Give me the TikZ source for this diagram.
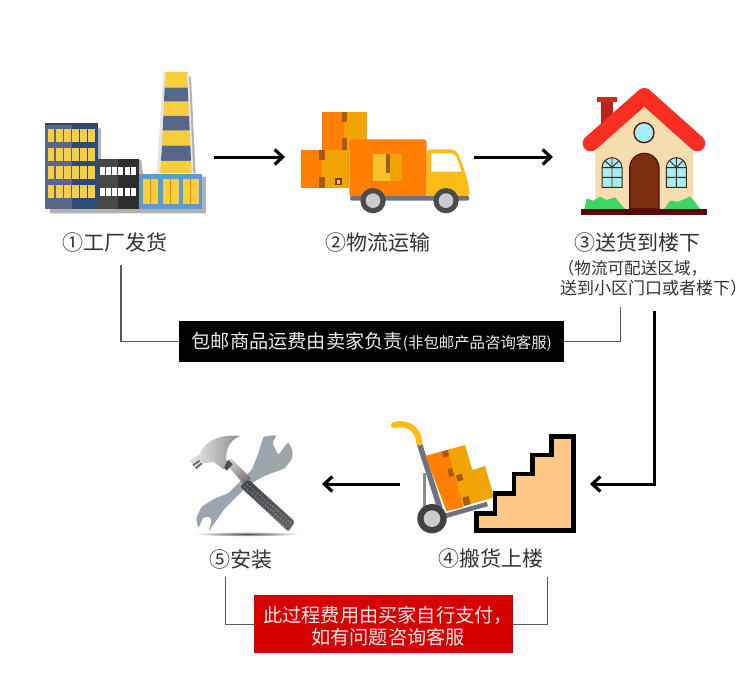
\documentclass[tikz,border=0pt]{standalone}
\usepackage{fontspec}
\newfontfamily\cjk{Noto Sans CJK SC}
\usetikzlibrary{arrows.meta}
\definecolor{txt}{HTML}{333333}
\definecolor{fnavy}{HTML}{56678A}
\definecolor{fnavyd}{HTML}{2E4A76}
\definecolor{fyel}{HTML}{F7CE3C}
\definecolor{fblue}{HTML}{5C9AD0}
\definecolor{orng}{HTML}{FF7F05}
\definecolor{ambr}{HTML}{F3A405}
\definecolor{tape}{HTML}{A85B10}
\definecolor{cabyel}{HTML}{FDBB17}
\definecolor{chas}{HTML}{6E7281}
\definecolor{roof}{HTML}{F92E22}
\definecolor{wall}{HTML}{F6DDAF}
\definecolor{glass}{HTML}{A6EEF5}
\definecolor{brwn}{HTML}{7B2E0E}
\definecolor{dbrwn}{HTML}{55090B}
\definecolor{grass}{HTML}{40D562}
\definecolor{steelb}{HTML}{8FA5C0}
\definecolor{steelm}{HTML}{EDEDE6}
\definecolor{steelr}{HTML}{A8A698}
\definecolor{gripc}{HTML}{43474B}
\tikzset{
  lbl/.style={font=\cjk\fontsize{21}{22}\selectfont, text=txt, inner sep=0pt},
  sublbl/.style={font=\cjk\fontsize{16.6}{18}\selectfont, text=txt, inner sep=0pt},
  flow/.style={draw=black, line width=3pt, -{Straight Barb[length=8pt,width=15pt,line width=3.2pt]}},
  bracket/.style={draw=black!65, line width=1.2pt},
  wndw/.style={fill=fyel, draw=none},
  whitewin/.style={fill=white, draw=none},
  ygridw/.style={draw=brwn!70!black, line width=1pt, fill=glass},
}
\begin{document}
\begin{tikzpicture}[x=1pt,y=-1pt]
\useasboundingbox (0,0) rectangle (750,693);
\fill[white] (0,0) rectangle (750,693);

% ---------- factory (zoom coordinates)
\begin{scope}[shift={(30,60)},scale=1/3]
  \fill[black!30] (60,205) -- (213,205) -- (213,300) -- (335,300) -- (335,310) -- (340,350) -- (528,350) -- (528,460) -- (60,460) -- cycle;
  \fill[black!30] (470,50) -- (483,50) -- (497,340) -- (480,340) -- cycle;
  % chimney
  \fill[black!10] (400,36) -- (477,36) -- (490,340) -- (380,340) -- cycle;
  \fill[fyel] (407,36) -- (470,36) -- (473,83) -- (404,83) -- cycle;
  \fill[fnavy] (404,83) -- (473,83) -- (475,125) -- (402,125) -- cycle;
  \fill[fyel] (402,125) -- (475,125) -- (477,168) -- (400,168) -- cycle;
  \fill[fnavy] (400,168) -- (477,168) -- (479,212) -- (398,212) -- cycle;
  \fill[fyel] (398,212) -- (479,212) -- (481,257) -- (396,257) -- cycle;
  \fill[fnavy] (396,257) -- (481,257) -- (483,303) -- (393,303) -- cycle;
  \fill[fyel] (393,303) -- (483,303) -- (485,340) -- (391,340) -- cycle;
  % tall building
  \fill[fnavy] (45,190) rectangle (126,448);
  \fill[fnavyd] (126,190) rectangle (203,448);
  \fill[black!35!fnavy] (45,190) rectangle (203,196);
  \foreach \yy in {208,263,319,375}{
    \foreach \xx in {53,78,102,127,151,175}{
      \fill[wndw] (\xx,\yy) rectangle ++(20,39);
    }
  }
  % dark building
  \fill[black!72] (203,296) rectangle (264,448);
  \fill[black!82] (264,296) rectangle (328,448);
  \foreach \yy in {320,383}{
    \foreach \xx in {210,228,247,265,284,302}{
      \fill[whitewin] (\xx,\yy) rectangle ++(15,24);
    }
  }
  % blue building
  \fill[fblue] (328,342) rectangle (515,448);
  \foreach \xx in {338,400,460}{
    \fill[fyel] (\xx,358) rectangle ++(46,75);
    \fill[orng] (\xx+21,358) rectangle ++(3,75);
  }
\end{scope}

% ---------- truck
\begin{scope}[shift={(290,90)},scale=1/3]
  \fill[ambr] (97,65) rectangle (230,180);
  \fill[orng] (97,65) rectangle (163,180);
  \fill[tape] (155,65) rectangle (171,97);
  \fill[tape] (155,145) rectangle (171,180);
  \fill[ambr] (34,180) rectangle (178,295);
  \fill[orng] (34,180) rectangle (97,295);
  \fill[tape] (88,180) rectangle (105,210);
  \fill[tape] (88,262) rectangle (105,293);
  \fill[tape!70!black] (136,265) rectangle (156,286);
  \fill[ambr!70!white] (141,270) rectangle (151,281);
  % cargo body
  \fill[orng, rounded corners=3pt] (178,148) rectangle (410,322);
  \fill[fyel!70!ambr] (249,193) rectangle (300,273);
  \fill[ambr] (300,193) rectangle (337,273);
  \fill[tape] (287,193) rectangle (300,250);
  % cab
  \fill[cabyel, rounded corners=4pt] (410,178) -- (490,178) -- (505,190) -- (525,245) -- (538,295) -- (538,322) -- (410,322) -- cycle;
  \fill[white] (424,190) -- (485,190) -- (498,198) -- (515,245) -- (424,245) -- cycle;
  % chassis
  \fill[chas, rounded corners=2pt] (180,318) rectangle (538,332);
  \foreach \xx in {249,468}{
    \fill[black!70] (\xx,332) circle (38);
    \fill[black!20] (\xx,332) circle (22);
  }
\end{scope}

% ---------- house
\begin{scope}[shift={(550,70)},scale=1/3]
  \fill[roof!75!black] (152,95) rectangle (190,170);
  \fill[roof!85!black] (140,82) rectangle (200,96);
  \fill[wall] (136,417) -- (136,235) -- (283,100) -- (430,235) -- (430,417) -- cycle;
  \draw[roof, line width=16pt, line cap=round, line join=round] (122,220) -- (283,78) -- (442,220);
  \fill[grass] (103,417) -- (110,385) -- (130,392) -- (150,380) -- (170,390) -- (195,382) -- (225,417) -- cycle;
  \fill[grass] (343,417) -- (360,392) -- (385,395) -- (420,380) -- (432,392) -- (450,417) -- cycle;
  \fill[dbrwn] (92,417) rectangle (470,435);
  \draw[dbrwn, line width=1.3pt, fill=glass] (282,188) circle (30);
  \draw[dbrwn, line width=1.2pt, fill=brwn] (239,417) -- (239,295) arc[start angle=180,end angle=360,x radius=44,y radius=45] -- (327,417) -- cycle;
  \foreach \xx in {156,349}{
    \draw[ygridw] (\xx,352) -- (\xx,293) arc[start angle=180,end angle=360,x radius=30,y radius=30] -- (\xx+60,352) -- cycle;
    \draw[brwn!70!black, line width=.9pt] (\xx,293) -- (\xx+60,293) (\xx,322) -- (\xx+60,322) (\xx+30,263) -- (\xx+30,352)
      (\xx+30,293) -- (\xx+10,272) (\xx+30,293) -- (\xx+50,272);
  }
\end{scope}

% ---------- tools
\begin{scope}[shift={(185,430)},scale=1/3]
  \shade[inner color=black!70, outer color=white] (186,312) ellipse (162 and 7);
  % wrench
  \shade[left color=steelb, middle color=steelm, right color=steelr, shading angle=45, rounded corners=1.5pt]
    (235,20) -- (275,15) -- (262,40) -- (280,75) -- (310,35) -- (322,60) -- (322,85) -- (300,115) -- (245,135) -- (215,150) -- (180,175)
    -- (140,215) -- (120,235) -- (95,270) -- (70,305) -- (80,275) -- (75,260) -- (55,262) -- (40,295) -- (33,265) -- (50,230) -- (90,205) -- (130,190) -- (200,120) -- (220,70) -- cycle;
  % neck
  \shade[left color=black!20, right color=black!55, shading angle=45] (122,100) -- (138,85) -- (198,145) -- (178,165) -- cycle;
  \fill[black!70] (112,108) -- (130,90) -- (143,103) -- (125,122) -- cycle;
  % grip
  \shade[top color=gripc, bottom color=black!60, rounded corners=2pt] (190,148) -- (330,275) -- (310,305) -- (165,170) -- cycle;
  \foreach \ss in {0,1,2}{
    \draw[black!35, line width=.8pt, dash pattern=on 1pt off 2.4pt] (186+\ss*-7,162+\ss*8) -- (317+\ss*-7,278+\ss*8);
  }
  % head
  \shade[left color=black!15, middle color=white, right color=black!45]
    (45,72) .. controls (55,45) and (90,10) .. (165,18) .. controls (135,30) and (118,60) .. (125,95) -- (115,118) -- (85,95) -- (55,100) -- cycle;
  \fill[black!15] (15,92) -- (45,72) -- (55,100) -- (35,122) -- cycle;
  \draw[black!60, line width=1.6pt] (24,106) -- (44,92) (32,115) -- (50,100);
\end{scope}

% ---------- cart and stairs
\begin{scope}[shift={(380,410)},scale=1/3]
  \draw[black!45, line width=2.6pt] (133,190) -- (133,295);
  \draw[chas, line width=5.4pt] (118,100) -- (180,295);
  \draw[chas, line width=4.6pt] (195,318) -- (322,282);
  \draw[cabyel, line width=6pt, line cap=round] (42,45) .. controls (80,35) and (115,55) .. (118,98);
  \fill[ambr] (137,138) -- (255,105) -- (277,180) -- (315,168) -- (342,262) -- (200,303) -- cycle;
  \fill[orng] (137,138) -- (203,120) -- (250,292) -- (200,303) -- cycle;
  \fill[tape] (186,125) -- (203,120) -- (207,138) -- (190,143) -- cycle;
  \fill[tape] (203,178) -- (216,174) -- (222,197) -- (208,201) -- cycle;
  \fill[tape] (228,196) -- (245,191) -- (250,210) -- (233,215) -- cycle;
  \fill[tape] (247,263) -- (265,258) -- (272,282) -- (252,288) -- cycle;
  \fill[black!75] (156,326) circle (44);
  \fill[black!20] (156,326) circle (25);
  \draw[black, line width=4.4pt, fill={rgb,255:red,255;green,200;blue,135}, miter limit=10]
    (290,362) -- (290,310) -- (345,310) -- (345,250) -- (402,250) -- (402,192) -- (458,192) -- (458,135) -- (515,135) -- (515,80) -- (580,80) -- (580,362) -- cycle;
\end{scope}

% ---------- labels
\node[lbl] (l1) at (115,243) {①工厂发货};
\node[lbl] (l2) at (377.5,243) {②物流运输};
\node[lbl] (l3) at (637.5,242.5) {③送货到楼下};
\node[sublbl] (l3a) at (632.5,268.5) {（物流可配送区域，};
\node[sublbl,font=\cjk\fontsize{17}{18}\selectfont] (l3b) at (653.5,288.5) {送到小区门口或者楼下）};
\node[lbl] (l4) at (491.3,559) {④搬货上楼};
\node[lbl] (l5) at (240.8,559.3) {⑤安装};

% ---------- boxes
\node[fill=black, minimum width=384.6pt, minimum height=41.3pt, inner sep=0pt, text=white!92!black,
      font=\cjk\fontsize{19.2}{21}\selectfont] (bbox) at (371.3,341.5)
  {\hspace*{1pt}包邮商品运费由卖家负责{\fontsize{15.4}{16}\selectfont(非包邮产品咨询客服)}};
\node[fill={rgb,255:red,215;green,0;blue,0}, minimum width=258.4pt, minimum height=58pt, inner sep=0pt] (rbox) at (383.5,624.3) {};
\node[text=white!92!black, align=center, inner sep=0pt, font=\cjk\fontsize{19.2}{22}\selectfont] (rtxt) at (388,626.5)
  {此过程费用由买家自行支付，\\如有问题咨询客服};

% ---------- connector ends
\coordinate (b1) at (121,265);
\coordinate (b2) at (620.5,307);
\coordinate (r1) at (225.7,577);
\coordinate (r2) at (547.3,577);
\coordinate (factory) at (214,157);
\coordinate (truckL) at (285,157);
\coordinate (truckR) at (474,157);
\coordinate (house) at (553,157);
\coordinate (houseB) at (654,311);
\coordinate (stairs) at (590,484);
\coordinate (cart) at (400,484);
\coordinate (tools) at (322,484);

\draw[bracket] (bbox.west) -| (b1);
\draw[bracket] (bbox.east) -| (b2);
\draw[bracket] (rbox.west) -| (r1);
\draw[bracket] (rbox.east) -| (r2);

\draw[flow] (factory) -- (truckL);
\draw[flow] (truckR) -- (house);
\draw[flow] (houseB) |- (stairs);
\draw[flow] (cart) -- (tools);
\end{tikzpicture}
\end{document}
